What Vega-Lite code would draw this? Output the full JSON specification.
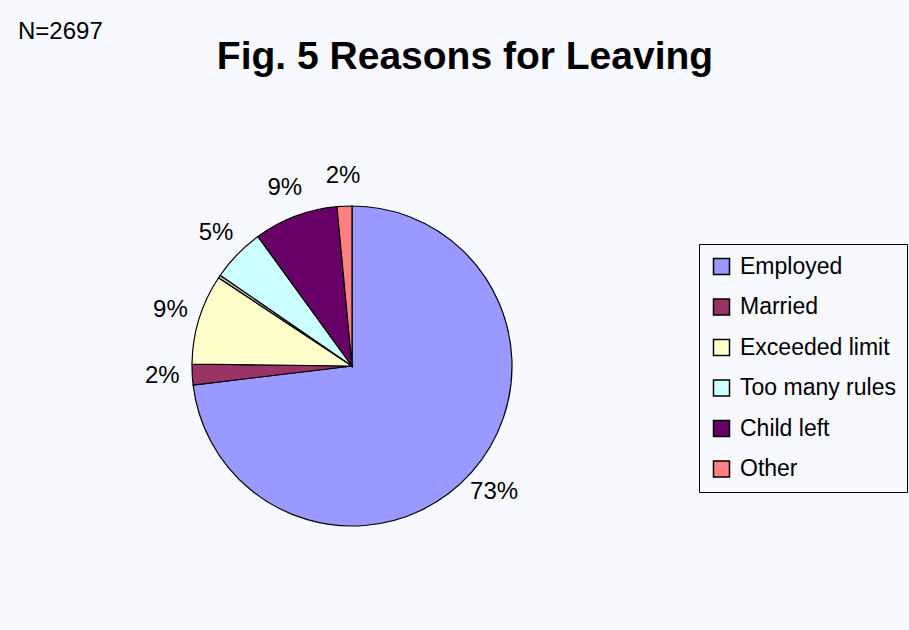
{
  "$schema": "https://vega.github.io/schema/vega-lite/v6.json",
  "background": "#F8F8FF",
  "padding": {"left": 18, "top": 20, "right": 9, "bottom": 104},
  "autosize": {"type": "pad"},
  "title": {
    "text": "N=2697",
    "anchor": "start",
    "frame": "group",
    "dx": -174,
    "offset": -25,
    "baseline": "alphabetic",
    "font": "Liberation Sans",
    "fontSize": 24,
    "fontWeight": "normal",
    "color": "black"
  },
  "bounds": "flush",
  "resolve": {"legend": {"color": "independent"}},
  "vconcat": [
    {
      "width": 320,
      "height": 320,
      "title": {
        "text": "Fig. 5 Reasons for Leaving",
        "anchor": "middle",
        "frame": "group",
        "dx": 113,
        "offset": 56,
        "baseline": "alphabetic",
        "font": "Liberation Sans",
        "fontSize": 39,
        "fontWeight": "bold",
        "color": "black"
      },
      "data": {
        "values": [
          {"reason": "Employed", "share": 0.731},
          {"reason": "Married", "share": 0.021},
          {"reason": "Exceeded limit", "share": 0.091},
          {"reason": "", "share": 0.003},
          {"reason": "Too many rules", "share": 0.054},
          {"reason": "Child left", "share": 0.085},
          {"reason": "Other", "share": 0.015}
        ]
      },
      "transform": [{"window": [{"op": "row_number", "as": "idx"}]}],
      "encoding": {
        "theta": {"field": "share", "type": "quantitative", "stack": true},
        "order": {"field": "idx", "type": "quantitative"}
      },
      "layer": [
        {
          "mark": {"type": "arc", "stroke": "black", "strokeWidth": 1.2},
          "encoding": {
            "color": {
              "field": "reason",
              "type": "nominal",
              "scale": {
                "domain": ["Employed", "Married", "Exceeded limit", "", "Too many rules", "Child left", "Other"],
                "range": ["#9999FF", "#993366", "#FFFFCC", "#C0C0C0", "#CCFFFF", "#660066", "#FF8080"]
              },
              "legend": {
                "orient": "none",
                "legendX": 507,
                "legendY": 38,
                "title": null,
                "values": ["Employed", "Married", "Exceeded limit", "Too many rules", "Child left", "Other"],
                "symbolType": "square",
                "symbolSize": 256,
                "symbolStrokeColor": "black",
                "symbolStrokeWidth": 1.5,
                "symbolOpacity": 1,
                "labelFont": "Liberation Sans",
                "labelFontSize": 23,
                "labelColor": "black",
                "labelOffset": 7,
                "labelLimit": 300,
                "rowPadding": 16.5,
                "padding": 11,
                "strokeColor": "black",
                "fillColor": "#F8F8FF"
              }
            }
          }
        },
        {
          "mark": {"type": "text", "radius": 190, "font": "Liberation Sans", "fontSize": 24, "align": "center", "baseline": "middle"},
          "encoding": {
            "detail": {"field": "reason", "type": "nominal"},
            "color": {"value": "black"},
            "text": {
              "condition": {"test": "datum.share < 0.01", "value": ""},
              "field": "share",
              "type": "quantitative",
              "format": ".0%"
            }
          }
        }
      ]
    }
  ],
  "config": {"view": {"stroke": null}}
}
